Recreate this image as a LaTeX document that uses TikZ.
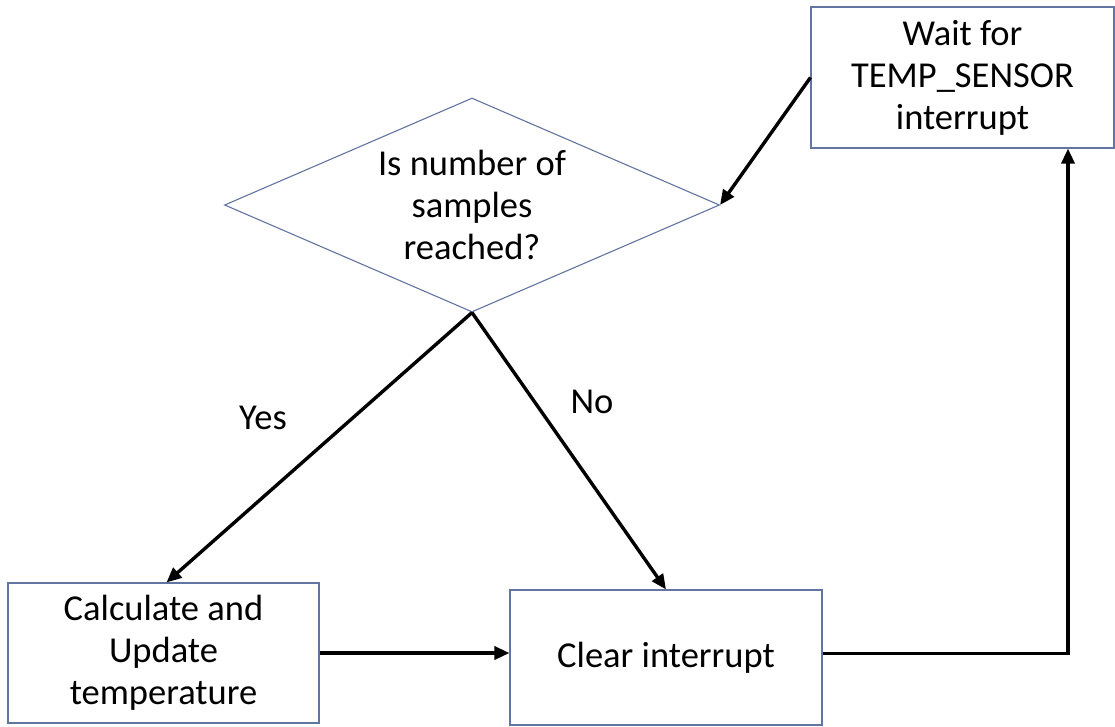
\documentclass[tikz,border=0pt]{standalone}
\usepackage{fontspec}
\setmainfont{Carlito}
\usetikzlibrary{shapes.geometric,arrows.meta}
\definecolor{edgeblue}{RGB}{98,116,160}
\tikzset{
  box/.style={draw=edgeblue, line width=1.1pt, rectangle, inner sep=0pt,
    align=center, font=\fontsize{36.5}{42}\selectfont},
  decision/.style={draw=edgeblue, line width=1.1pt, diamond, aspect=2.31,
    inner sep=0pt, align=center, font=\fontsize{36.5}{42}\selectfont},
  flow/.style={line width=3.4pt, -{Triangle[length=15pt,width=13pt]}},
  lbl/.style={font=\fontsize{36.5}{42}\selectfont}
}
\begin{document}
\begin{tikzpicture}[x=1pt,y=-1pt]
  \useasboundingbox (0,0) rectangle (1115,726);
  % process and decision nodes
  \node[box, minimum width=303pt, minimum height=141pt] (wait) at (962.5,77.5)
    {Wait for\\TEMP\_SENSOR\\interrupt};
  \node[decision, minimum width=495pt, minimum height=214pt] (dec) at (472,205)
    {Is number of\\samples\\reached?};
  \node[box, minimum width=311pt, minimum height=140pt] (calc) at (163.5,653)
    {Calculate and\\Update\\temperature};
  \node[box, minimum width=312pt, minimum height=135pt] (clr) at (666,657.5)
    {Clear interrupt};
  % branch labels
  \node[lbl] (yes) at (263,418) {Yes};
  \node[lbl] (no) at (592,402) {No};
  % connectors
  \draw[flow] (wait.west) -- (dec.east);
  \draw[flow] (dec.south) -- ([xshift=3pt]calc.north);
  \draw[flow] (dec.south) -- (clr.north);
  \draw[flow] (calc.east) -- (clr.west |- calc.east);
  \draw[flow] ([yshift=4pt]clr.east) -| ([xshift=105.5pt]wait.south);
\end{tikzpicture}
\end{document}
